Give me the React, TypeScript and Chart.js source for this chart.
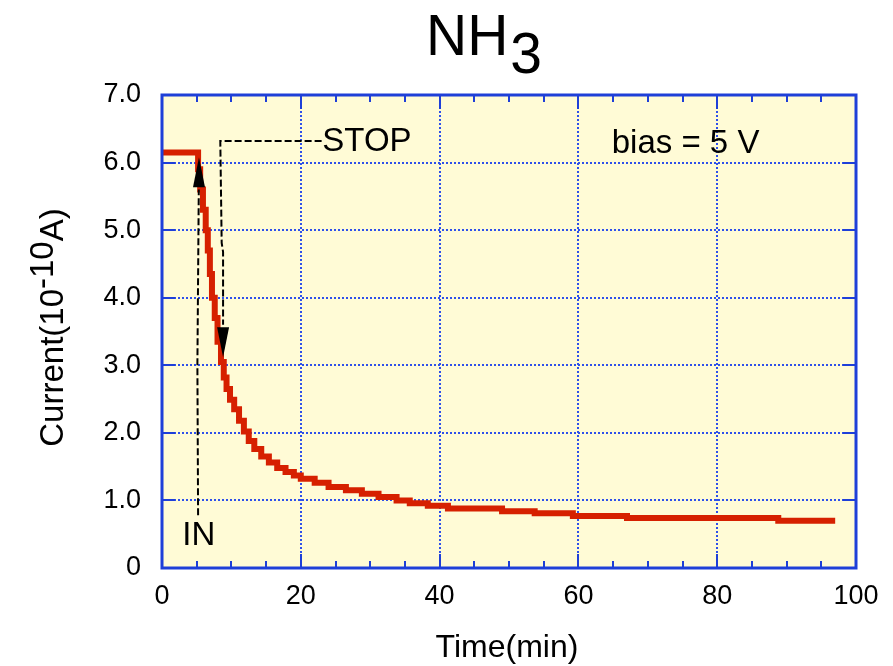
import React, { useEffect, useRef } from "react";
import { Chart, registerables } from "chart.js";

Chart.register(...registerables);

// ---- data ----
// each point: time at which the current steps to the new level
const timeMin = [
  0, 5.2, 5.5, 5.9, 6.3, 6.6, 6.9, 7.2, 7.6, 8.0, 8.5, 8.9, 9.3, 9.8, 10.4,
  11.1, 11.8, 12.5, 13.3, 14.3, 15.4, 16.6, 17.8, 19.0, 20.0, 22.0, 24.0,
  26.5, 28.8, 31.2, 33.8, 35.7, 38.3, 41.2, 49.0, 53.7, 59.2, 67.0, 88.8, 97.0,
];
const currentE10A = [
  6.15, 5.9, 5.6, 5.3, 5.0, 4.7, 4.35, 4.0, 3.7, 3.35, 3.05, 2.82, 2.65, 2.49,
  2.35, 2.18, 2.02, 1.88, 1.76, 1.65, 1.56, 1.48, 1.42, 1.37, 1.32, 1.26, 1.2,
  1.15, 1.1, 1.05, 1.0, 0.96, 0.92, 0.88, 0.84, 0.81, 0.77, 0.74, 0.7, 0.7,
];
const xRange = [0, 100];
const yRange = [0, 7];
const xStep = 20;
const xMinorStep = 5;
const yStep = 1;

const titleMain = "NH";
const titleSub = "3";
const xTitle = "Time(min)";
const yTitleParts = ["Current(10", "-10", "A)"];
const labelIn = "IN";
const labelStop = "STOP";
const labelBias = "bias = 5 V";

const FONT = '"Liberation Sans", Arial, Helvetica, sans-serif';
const BLUE = "#1e3fd8";
const GRID = "#2e50ea";
const RED = "#d62000";

function arrowHead(ctx: CanvasRenderingContext2D, tipX: number, tipY: number, dir: number) {
  // dir: -1 up, +1 down
  const len = 30;
  const half = 6;
  ctx.beginPath();
  ctx.moveTo(tipX, tipY);
  ctx.lineTo(tipX - half, tipY - dir * len);
  ctx.lineTo(tipX + half, tipY - dir * len);
  ctx.closePath();
  ctx.fill();
}

const decorPlugin = {
  id: "decor",
  beforeDraw(chart: any) {
    const { ctx, chartArea: a } = chart;
    ctx.save();
    ctx.fillStyle = "#fffbd6";
    ctx.fillRect(a.left, a.top, a.right - a.left, a.bottom - a.top);
    ctx.restore();
  },
  afterDraw(chart: any) {
    const { ctx, chartArea: a, scales } = chart;
    const xs = scales.x;
    const ys = scales.y;
    ctx.save();

    // ticks (inward)
    ctx.strokeStyle = BLUE;
    ctx.lineWidth = 2;
    ctx.beginPath();
    for (let v = xRange[0]; v <= xRange[1]; v += xMinorStep) {
      const px = Math.round(xs.getPixelForValue(v));
      const major = v % xStep === 0;
      const L = major ? 14 : 7;
      ctx.moveTo(px, a.bottom);
      ctx.lineTo(px, a.bottom - L);
      ctx.moveTo(px, a.top);
      ctx.lineTo(px, a.top + L);
    }
    for (let v = yRange[0]; v <= yRange[1]; v += yStep) {
      const py = Math.round(ys.getPixelForValue(v));
      ctx.moveTo(a.left, py);
      ctx.lineTo(a.left + 13, py);
      ctx.moveTo(a.right, py);
      ctx.lineTo(a.right - 13, py);
    }
    ctx.stroke();

    // frame
    ctx.lineWidth = 3;
    ctx.strokeRect(a.left, a.top, a.right - a.left, a.bottom - a.top);

    // annotations
    const X = (v: number) => xs.getPixelForValue(v);
    const Y = (v: number) => ys.getPixelForValue(v);
    ctx.strokeStyle = "#000";
    ctx.fillStyle = "#000";
    ctx.lineWidth = 2;
    ctx.setLineDash([7, 3]);
    // IN arrow
    ctx.beginPath();
    ctx.moveTo(X(5.2), Y(0.78));
    ctx.lineTo(X(5.1), Y(3.0));
    ctx.lineTo(X(5.3), Y(5.6));
    ctx.stroke();
    // STOP arrow
    ctx.beginPath();
    ctx.moveTo(X(23.0), Y(6.32));
    ctx.lineTo(X(8.4), Y(6.32));
    ctx.lineTo(X(8.6), Y(4.81));
    ctx.lineTo(X(8.8), Y(4.68));
    ctx.lineTo(X(8.8), Y(3.6));
    ctx.stroke();
    ctx.setLineDash([]);
    arrowHead(ctx, X(5.33), Y(6.08), -1);
    arrowHead(ctx, X(8.8), Y(3.12), 1);

    // annotation labels
    ctx.font = `33px ${FONT}`;
    ctx.textBaseline = "middle";
    ctx.textAlign = "left";
    ctx.fillText(labelStop, X(23.1), Y(6.32) + 1);
    ctx.textAlign = "center";
    ctx.fillText(labelIn, X(5.3), Y(0.47));
    ctx.textAlign = "left";
    ctx.textBaseline = "alphabetic";
    ctx.fillText(labelBias, X(64.8), Y(6.15) + 1);

    // title NH3
    ctx.font = `57px ${FONT}`;
    ctx.textAlign = "left";
    ctx.textBaseline = "alphabetic";
    const wMain = ctx.measureText(titleMain).width;
    ctx.fillText(titleMain, 426, 55);
    ctx.fillText(titleSub, 426 + wMain + 2, 73);

    // x title
    ctx.font = `32px ${FONT}`;
    ctx.textAlign = "center";
    ctx.fillText(xTitle, (a.left + a.right) / 2 - 2, 657);

    // y title (rotated, with superscript)
    ctx.font = `33px ${FONT}`;
    ctx.textAlign = "left";
    const widths = yTitleParts.map((t) => ctx.measureText(t).width);
    const total = widths.reduce((s, w) => s + w, 0);
    const cy = (a.top + a.bottom) / 2 - 4;
    ctx.translate(63, cy + total / 2);
    ctx.rotate(-Math.PI / 2);
    let cx = 0;
    yTitleParts.forEach((t, i) => {
      ctx.fillText(t, cx, i === 1 ? -10 : 0);
      cx += widths[i];
    });
    ctx.restore();
  },
};

export default function App() {
  const ref = useRef<HTMLCanvasElement | null>(null);
  useEffect(() => {
    if (!ref.current) return;
    const chart = new Chart(ref.current, {
      type: "line",
      data: {
        datasets: [
          {
            data: timeMin.map((t, i) => ({ x: t, y: currentE10A[i] })),
            borderColor: RED,
            borderWidth: 6,
            pointRadius: 0,
            stepped: "before",
            fill: false,
            clip: 6,
          },
        ],
      },
      options: {
        animation: false,
        responsive: false,
        devicePixelRatio: 1,
        layout: { padding: { top: 95, right: 37, left: 0, bottom: 0 } },
        plugins: { legend: { display: false }, tooltip: { enabled: false }, title: { display: false } },
        scales: {
          x: {
            type: "linear",
            min: xRange[0],
            max: xRange[1],
            afterFit: (s: any) => {
              s.height = 98;
            },
            ticks: {
              stepSize: xStep,
              color: "#000",
              font: { family: FONT, size: 27 },
              padding: 12,
              maxRotation: 0,
              callback: (v: any) => String(v),
            },
            grid: { color: GRID, lineWidth: 2, drawTicks: false },
            border: { display: false, dash: [2, 2] },
          },
          y: {
            type: "linear",
            min: yRange[0],
            max: yRange[1],
            afterFit: (s: any) => {
              s.width = 162;
            },
            ticks: {
              stepSize: yStep,
              color: "#000",
              font: { family: FONT, size: 27 },
              padding: 21,
              callback: (v: any) => (v === 0 ? "0" : Number(v).toFixed(1)),
            },
            grid: { color: GRID, lineWidth: 2, drawTicks: false },
            border: { display: false, dash: [2, 2] },
          },
        },
      },
      plugins: [decorPlugin],
    });
    return () => chart.destroy();
  }, []);
  return (
    <div style={{ position: "absolute", left: 0, top: 0, width: 893, height: 666, background: "#fff" }}>
      <canvas ref={ref} width={893} height={666} />
    </div>
  );
}
